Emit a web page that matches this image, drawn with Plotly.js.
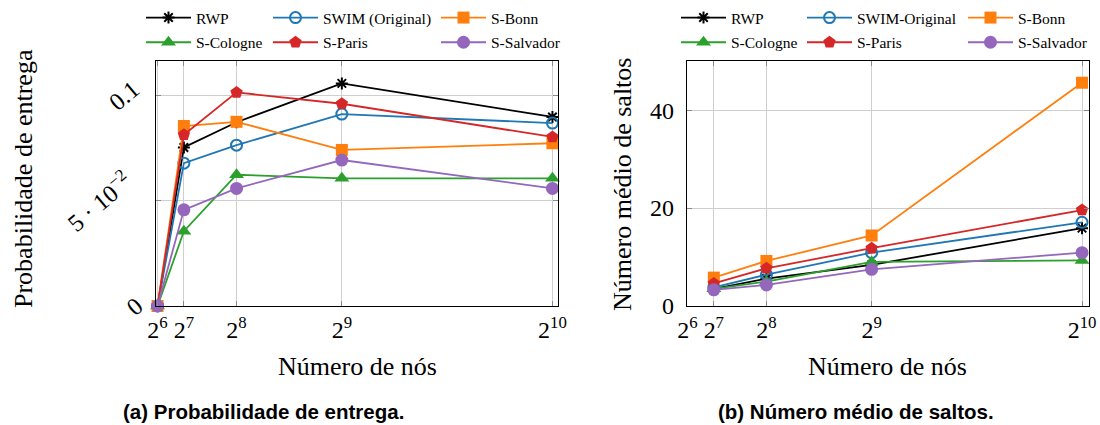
<!DOCTYPE html>
<html>
<head>
<meta charset="utf-8">
<script src="https://cdn.plot.ly/plotly-3.0.1.min.js"></script>
<style>
html,body{margin:0;padding:0;background:#fff;}
#chart{width:1100px;height:425px;}
</style>
</head>
<body>
<div id="chart"></div>
<script>
// ---- data ----
const nodesA = [64, 128, 256, 512, 1024];
const nodesB = [128, 256, 512, 1024];
const tickVals = [64, 128, 256, 512, 1024];
const tickText = ['2<sup>6</sup>', '2<sup>7</sup>', '2<sup>8</sup>', '2<sup>9</sup>', '2<sup>10</sup>'];

const namesA = ['RWP', 'SWIM (Original)', 'S-Bonn', 'S-Cologne', 'S-Paris', 'S-Salvador'];
const namesB = ['RWP', 'SWIM-Original', 'S-Bonn', 'S-Cologne', 'S-Paris', 'S-Salvador'];

// (a) Probabilidade de entrega
const peRWP      = [0, 0.0755, 0.0875, 0.1060, 0.0900];
const peSWIM     = [0, 0.0680, 0.0766, 0.0914, 0.0871];
const peBonn     = [0, 0.0857, 0.0877, 0.0743, 0.0775];
const peCologne  = [0, 0.0356, 0.0625, 0.0608, 0.0608];
const peParis    = [0, 0.0815, 0.1017, 0.0963, 0.0805];
const peSalvador = [0, 0.0458, 0.0560, 0.0695, 0.0560];

// (b) Número médio de saltos
const hopRWP      = [3.5, 5.6, 8.4, 15.9];
const hopSWIM     = [3.8, 6.4, 10.9, 17.1];
const hopBonn     = [5.8, 9.2, 14.4, 45.6];
const hopCologne  = [3.5, 5.0, 9.0, 9.3];
const hopParis    = [4.6, 7.7, 11.8, 19.6];
const hopSalvador = [3.3, 4.3, 7.5, 10.9];

const yTickValsA = [0, 0.05, 0.1];
const yTickTextA = ['0', '5 · 10<sup>−2</sup>', '0.1'];
const yTickValsB = [0, 20, 40];

const xTitle = 'Número de nós';
const yTitleA = 'Probabilidade de entrega';
const yTitleB = 'Número médio de saltos';
const captionA = '(a) Probabilidade de entrega.';
const captionB = '(b) Número médio de saltos.';

// ---- styles ----
const colors = ['#000000', '#1f77b4', '#ff7f0e', '#2ca02c', '#d62728', '#9467bd'];
function markerFor(i) {
  switch (i) {
    case 0: return {symbol: 'asterisk-open', size: 10, color: colors[0], line: {color: colors[0], width: 2}};
    case 1: return {symbol: 'circle-open', size: 11, color: colors[1], line: {color: colors[1], width: 2}};
    case 2: return {symbol: 'square', size: 12, color: colors[2]};
    case 3: return {symbol: 'triangle-up', size: 13, color: colors[3]};
    case 4: return {symbol: 'pentagon', size: 13, color: colors[4]};
    case 5: return {symbol: 'circle', size: 13, color: colors[5]};
  }
}
const colOf = [0, 1, 2, 0, 1, 2];

const seriesA = [peRWP, peSWIM, peBonn, peCologne, peParis, peSalvador];
const seriesB = [hopRWP, hopSWIM, hopBonn, hopCologne, hopParis, hopSalvador];

const traces = [];
seriesA.forEach((ys, i) => {
  traces.push({
    x: nodesA, y: ys, name: namesA[i], type: 'scatter', mode: 'lines+markers',
    xaxis: 'x', yaxis: 'y', cliponaxis: false,
    line: {color: colors[i], width: 1.8},
    marker: markerFor(i),
    legend: ['legend', 'legend2', 'legend3'][colOf[i]],
    legendgroup: 'a' + i
  });
});
seriesB.forEach((ys, i) => {
  traces.push({
    x: nodesB, y: ys, name: namesB[i], type: 'scatter', mode: 'lines+markers',
    xaxis: 'x2', yaxis: 'y2', cliponaxis: false,
    line: {color: colors[i], width: 1.8},
    marker: markerFor(i),
    legend: ['legend4', 'legend5', 'legend6'][colOf[i]],
    legendgroup: 'b' + i
  });
});

const W = 1100, H = 425;
const serif = 'Liberation Serif, Times New Roman, serif';
const sans = 'Liberation Sans, Arial, sans-serif';
function legendAt(px, py) {
  return {
    xref: 'paper', yref: 'paper',
    x: px / W, y: 1 - py / H, xanchor: 'left', yanchor: 'top',
    orientation: 'v', bgcolor: 'rgba(0,0,0,0)', borderwidth: 0,
    font: {family: serif, size: 15.5, color: '#000'},
    itemwidth: 45, tracegroupgap: 1.5
  };
}

const gridColor = '#cfcfcf';
const tickFont = {family: serif, size: 24, color: '#000'};
function xAxis(domain, range, anchor) {
  return {
    domain: domain, range: range, anchor: anchor, automargin: false,
    tickmode: 'array', tickvals: tickVals, ticktext: tickText,
    showgrid: true, gridcolor: gridColor, gridwidth: 1, zeroline: false,
    showline: true, linecolor: '#000', linewidth: 1, mirror: 'all',
    ticks: 'inside', ticklen: 5, tickcolor: '#8a8a8a', tickwidth: 1,
    tickfont: tickFont, ticklabelstandoff: 2,
    fixedrange: true
  };
}
function yAxis(domain, range, anchor, extra) {
  return Object.assign({
    domain: domain, range: range, anchor: anchor, automargin: false,
    showgrid: true, gridcolor: gridColor, gridwidth: 1, zeroline: false,
    showline: true, linecolor: '#000', linewidth: 1, mirror: 'all',
    ticks: 'inside', ticklen: 5, tickcolor: '#8a8a8a', tickwidth: 1,
    tickfont: tickFont,
    fixedrange: true
  }, extra);
}

function ann(text, px, py, font, extra) {
  return Object.assign({
    text: text, xref: 'paper', yref: 'paper', x: px / W, y: 1 - py / H,
    xanchor: 'center', yanchor: 'middle', showarrow: false, font: font
  }, extra || {});
}

const titleFont = {family: serif, size: 26, color: '#000'};
const capFont = {family: sans, size: 20.5, color: '#000'};

// rotated tick labels of the left y axis, placed on the axis scale (yref 'y')
const yTickLabelCentersA = [134, 98.5, 124];
const yTickAnns = yTickValsA.map((v, i) => ({
  text: yTickTextA[i], xref: 'paper', yref: 'y', x: yTickLabelCentersA[i] / W, y: v,
  xanchor: 'center', yanchor: 'middle', showarrow: false, textangle: -40,
  font: {family: serif, size: 24.5, color: '#000'}
}));

const yDom = [1 - 306 / H, 1 - 60.7 / H];
const layout = {
  width: W, height: H,
  margin: {l: 0, r: 0, t: 0, b: 0, autoexpand: false},
  paper_bgcolor: '#fff', plot_bgcolor: '#fff',
  font: {family: serif, color: '#000'},
  showlegend: true,
  xaxis: xAxis([155.7 / W, 558 / W], [59.5, 1037.5], 'y'),
  xaxis2: xAxis([686.7 / W, 1088.6 / W], [62, 1040], 'y2'),
  yaxis: yAxis(yDom, [0, 0.1168], 'x', {
    tickmode: 'array', tickvals: yTickValsA, ticktext: yTickTextA,
    showticklabels: false
  }),
  yaxis2: yAxis(yDom, [0, 50.1], 'x2', {
    tickmode: 'array', tickvals: yTickValsB, ticktext: yTickValsB.map(String),
    ticklabelstandoff: 7
  }),
  legend: legendAt(141, 1),
  legend2: legendAt(268, 1),
  legend3: legendAt(436, 1),
  legend4: legendAt(676, 1),
  legend5: legendAt(802, 1),
  legend6: legendAt(963, 1),
  annotations: yTickAnns.concat([
    ann(xTitle, 357, 366, titleFont),
    ann(xTitle, 887, 366, titleFont),
    ann(yTitleA, 23, 179, titleFont, {textangle: -90}),
    ann(yTitleB, 622, 185, titleFont, {textangle: -90}),
    ann('<b>' + captionA + '</b>', 263, 411.5, capFont),
    ann('<b>' + captionB + '</b>', 856, 411.5, capFont)
  ])
};

Plotly.newPlot('chart', traces, layout, {displayModeBar: false, staticPlot: true});
</script>
</body>
</html>
